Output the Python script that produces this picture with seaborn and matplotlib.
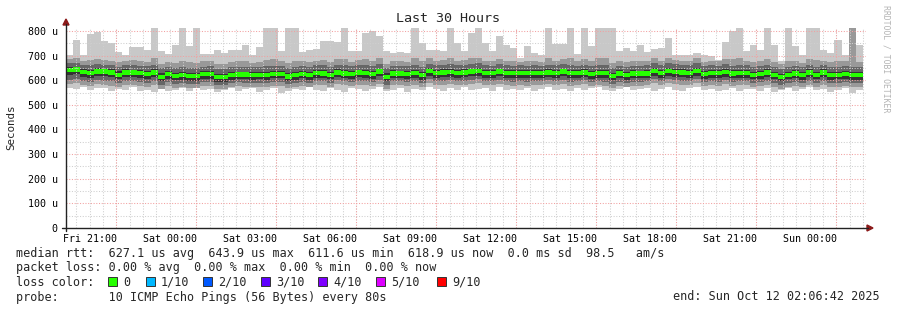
import numpy as np
import matplotlib
matplotlib.use('Agg')
import matplotlib.pyplot as plt
import seaborn as sns
from matplotlib.patches import Polygon, Rectangle
from matplotlib.lines import Line2D

# ---------------- data (microseconds) ----------------
median = [641,644,634,629,636,636,632,622,632,632,629,625,632,614,625,618,620,616,616,625,625,612,612,621,623,623,621,622,622,626,626,615,621,626,621,630,628,622,632,628,625,632,629,625,636,614,628,628,625,629,621,637,629,632,634,629,632,636,638,629,629,636,629,629,629,629,629,629,632,629,636,629,629,632,625,629,629,618,628,621,628,628,628,638,629,638,634,632,629,638,625,629,629,634,628,629,629,622,625,632,622,612,622,628,621,632,622,632,621,622,625,621,621]
hi1 = [703,764,703,788,795,760,753,715,703,733,733,721,812,720,707,744,812,740,812,706,706,724,710,724,724,744,703,735,812,812,720,812,812,714,724,727,760,760,757,812,717,717,791,798,780,717,711,714,711,812,753,724,724,720,812,750,717,791,812,750,717,780,744,730,690,737,710,703,812,748,748,812,705,812,737,812,812,812,717,730,720,744,714,726,730,771,703,703,703,710,703,697,683,757,800,812,717,744,724,812,744,679,812,740,703,812,812,724,710,764,703,812,744]
hi2 = [688,690,680,684,686,682,678,672,680,684,676,674,692,666,674,670,676,672,668,676,678,664,665,672,676,680,670,675,684,686,676,668,680,676,672,680,684,674,685,688,672,682,688,676,690,666,678,680,674,692,676,690,680,682,690,678,682,690,692,680,676,688,680,676,674,678,676,672,692,680,686,690,676,688,676,690,692,670,678,672,680,676,678,690,680,692,684,680,676,690,674,678,676,686,688,690,676,672,676,688,672,664,680,678,670,686,682,680,672,676,678,812,672]
hi3 = [668,670,662,660,664,663,660,655,660,662,658,656,662,648,655,650,652,650,649,655,656,646,645,652,654,655,652,654,656,657,658,648,652,657,654,660,660,654,663,660,656,662,660,657,666,648,658,659,656,660,654,666,660,663,664,660,662,666,668,660,659,665,660,658,660,659,660,659,663,660,665,660,658,662,656,660,660,650,658,652,658,658,660,668,660,668,664,662,660,668,656,660,658,664,659,660,660,653,656,662,654,646,654,659,652,662,654,663,653,654,657,654,652]
hi4 = [652,655,647,641,648,647,645,636,644,643,641,637,645,628,637,631,632,629,629,636,637,626,625,633,635,634,633,634,635,637,638,628,633,638,633,641,640,634,644,640,637,643,641,637,647,628,640,639,637,640,634,648,641,644,645,641,644,647,649,641,641,647,641,640,641,640,641,640,644,641,647,641,640,644,637,641,641,631,640,633,640,639,640,649,641,649,646,644,641,649,637,641,640,646,640,641,641,634,637,644,635,626,634,640,633,644,634,644,633,635,637,634,633]
lo4 = [620,624,615,610,617,616,613,604,612,613,610,606,612,596,606,599,601,597,598,606,605,594,594,602,604,603,602,603,602,607,607,597,602,607,602,610,609,603,612,609,606,612,610,606,616,596,608,609,606,609,602,617,610,612,614,610,612,616,618,610,609,616,610,609,610,609,610,610,612,610,616,609,610,612,606,610,609,599,608,602,609,608,609,618,610,618,614,612,610,618,606,610,609,614,608,610,610,603,606,612,603,595,603,609,602,612,603,612,602,603,606,602,602]
lo3 = [602,606,598,594,600,598,596,588,596,598,594,590,598,582,592,586,588,584,585,592,592,582,581,590,592,590,588,590,590,594,594,584,590,594,590,598,596,590,600,596,592,598,596,592,602,582,596,596,592,596,590,604,596,598,600,596,598,602,604,596,596,602,596,594,596,594,596,596,600,596,602,594,596,600,592,596,594,586,594,590,594,594,596,604,596,604,600,598,596,604,592,596,594,600,594,596,596,590,592,598,590,582,590,594,588,598,590,598,588,590,592,588,588]
lo2 = [586,588,582,578,584,582,578,572,580,582,578,574,582,566,576,570,572,568,570,576,576,566,566,574,576,574,572,574,574,578,578,568,574,578,574,582,580,574,584,580,576,582,580,576,586,566,580,580,576,580,574,588,580,582,584,580,582,586,588,580,580,586,580,578,580,578,580,580,584,580,586,578,580,584,576,580,578,570,578,574,578,578,580,588,580,588,584,582,580,588,576,580,578,584,578,580,580,574,576,582,574,566,574,578,572,582,574,582,572,574,576,572,572]
lo1 = [570,566,572,560,568,570,558,566,562,574,556,560,552,564,558,562,568,556,572,562,566,552,560,570,556,564,568,552,562,570,548,556,566,560,572,562,558,568,560,552,570,564,558,566,574,556,562,570,552,564,560,572,566,558,568,562,574,560,566,570,556,572,562,566,560,570,558,564,574,560,566,556,570,562,568,572,560,556,566,574,560,564,570,558,566,572,562,556,568,574,560,566,558,562,570,556,564,566,558,570,552,560,568,556,564,572,560,566,554,562,570,548,560]

y_ticks = [0, 100, 200, 300, 400, 500, 600, 700, 800]
y_labels = ['0', '100 u', '200 u', '300 u', '400 u', '500 u', '600 u', '700 u', '800 u']
x_labels = ['Fri 21:00', 'Sat 00:00', 'Sat 03:00', 'Sat 06:00', 'Sat 09:00',
            'Sat 12:00', 'Sat 15:00', 'Sat 18:00', 'Sat 21:00', 'Sun 00:00']

loss_labels = ['0', '1/10', '2/10', '3/10', '4/10', '5/10', '9/10']
loss_colors = ['#26ff00', '#00b8ff', '#0059ff', '#5e00ff', '#7e00ff', '#dd00ff', '#ff0000']

# ---------------- layout ----------------
sns.set_style('white')
plt.rcParams['font.family'] = ['DejaVu Sans Mono']
FS = 8.45
TFS = 7.2

W, H = 897, 310
fig = plt.figure(figsize=(W / 100, H / 100), dpi=100, facecolor='white')
L, R, T, B = 66, 866, 28, 228
ax = fig.add_axes([L / W, 1 - B / H, (R - L) / W, (B - T) / H])
ax.set_facecolor('white')
YMAX = 812
SPAN = 30.0  # hours
ax.set_xlim(0, SPAN)
ax.set_ylim(0, YMAX)

n = min(len(median), len(hi1), len(hi2), len(hi3), len(hi4), len(lo1), len(lo2), len(lo3), len(lo4))
COL_W = 7.05 / ((R - L) / SPAN)  # hours per consolidated column
xe = np.minimum(np.arange(n + 1) * COL_W, SPAN)

def ext(a):
    a = np.minimum(np.asarray(a[:n], float), YMAX)
    return np.r_[a, a[-1]]

bands = [(lo1, hi1, '#c8c8c8'), (lo2, hi2, '#999999'), (lo3, hi3, '#666666'), (lo4, hi4, '#333333')]
for lo, hi, c in bands:
    ax.fill_between(xe, ext(lo), ext(hi), step='post', facecolor=c, edgecolor='none',
                    linewidth=0, antialiased=False, zorder=1)

med = np.asarray(median[:n], float)
half = 2.2 * YMAX / (B - T)
ax.fill_between(xe, ext(med - half), ext(med + half), step='post', facecolor=loss_colors[0],
                edgecolor='none', linewidth=0, antialiased=False, zorder=2)

# grid (drawn above the data, as rrdtool does)
t_first_label = 53.3 / 60.0  # Fri 21:00 after start 20:06:42
dot = (0, (1, 1.6))
for k in range(0, 70):
    xm = 0.3883 + 0.5 * k
    if xm < SPAN:
        ax.axvline(xm, color='#cfcfcf', lw=0.75, ls=dot, zorder=3)
for k in range(0, 12):
    xM = t_first_label + 1.0 + 3.0 * k
    if xM < SPAN:
        ax.axvline(xM, color='#f2a0a0', lw=0.75, ls=dot, zorder=4)
for v in range(50, 800, 100):
    ax.axhline(v, color='#cfcfcf', lw=0.75, ls=dot, zorder=3)
for v in range(100, 900, 100):
    ax.axhline(v, color='#f2a0a0', lw=0.75, ls=dot, zorder=4)

ax.set_yticks(y_ticks)
ax.set_yticklabels(y_labels)
ax.set_xticks([t_first_label + 3 * i for i in range(len(x_labels))])
ax.set_xticklabels(x_labels)
ax.tick_params(axis='y', length=0, pad=6, labelsize=TFS, colors='black')
ax.tick_params(axis='x', length=0, pad=4, labelsize=TFS, colors='black')
for s in ax.spines.values():
    s.set_visible(False)

def P(x, y):
    return (x / W, 1 - y / H)

# axes lines and arrows
fig.add_artist(Line2D([P(L, 0)[0]] * 2, [P(0, B + 3)[1], P(0, 24)[1]], color='#222222', lw=1.0))
fig.add_artist(Line2D([P(L - 4, 0)[0], P(868, 0)[0]], [P(0, B)[1]] * 2, color='#222222', lw=1.0))
fig.add_artist(Polygon([P(L - 3, 25), P(L + 3, 25), P(L, 19)], closed=True, color='#8b1a1a'))
fig.add_artist(Polygon([P(867, B - 3), P(867, B + 3), P(873, B)], closed=True, color='#8b1a1a'))

# texts
fig.text(*P(448, 19), 'Last 30 Hours', ha='center', va='center', fontsize=9.6)
fig.text(*P(11, 127), 'Seconds', ha='center', va='center', rotation=90, fontsize=7.8)
fig.text(*P(886, 59), 'RRDTOOL / TOBI OETIKER', ha='center', va='center', rotation=270,
         fontsize=5.9, color='#b4b4b4')

rows = [
    (254, 'median rtt:  627.1 us avg  643.9 us max  611.6 us min  618.9 us now  0.0 ms sd  98.5   am/s'),
    (268, 'packet loss: 0.00 % avg  0.00 % max  0.00 % min  0.00 % now'),
    (282, 'loss color:'),
    (297, 'probe:       10 ICMP Echo Pings (56 Bytes) every 80s'),
]
for y, s in rows:
    fig.text(*P(16, y), s, ha='left', va='center', fontsize=FS)
fig.text(*P(880, 297), 'end: Sun Oct 12 02:06:42 2025', ha='right', va='center', fontsize=FS)

sq_x = [108, 146, 203, 261, 318, 376, 437]
for x, lab, c in zip(sq_x, loss_labels, loss_colors):
    fig.add_artist(Rectangle(P(x, 286), 9 / W, 9 / H, facecolor=c, edgecolor='#333333', lw=0.7))
    fig.text(*P(x + 15, 282), lab, ha='left', va='center', fontsize=FS)

fig.savefig('out.png', dpi=100, facecolor='white')
